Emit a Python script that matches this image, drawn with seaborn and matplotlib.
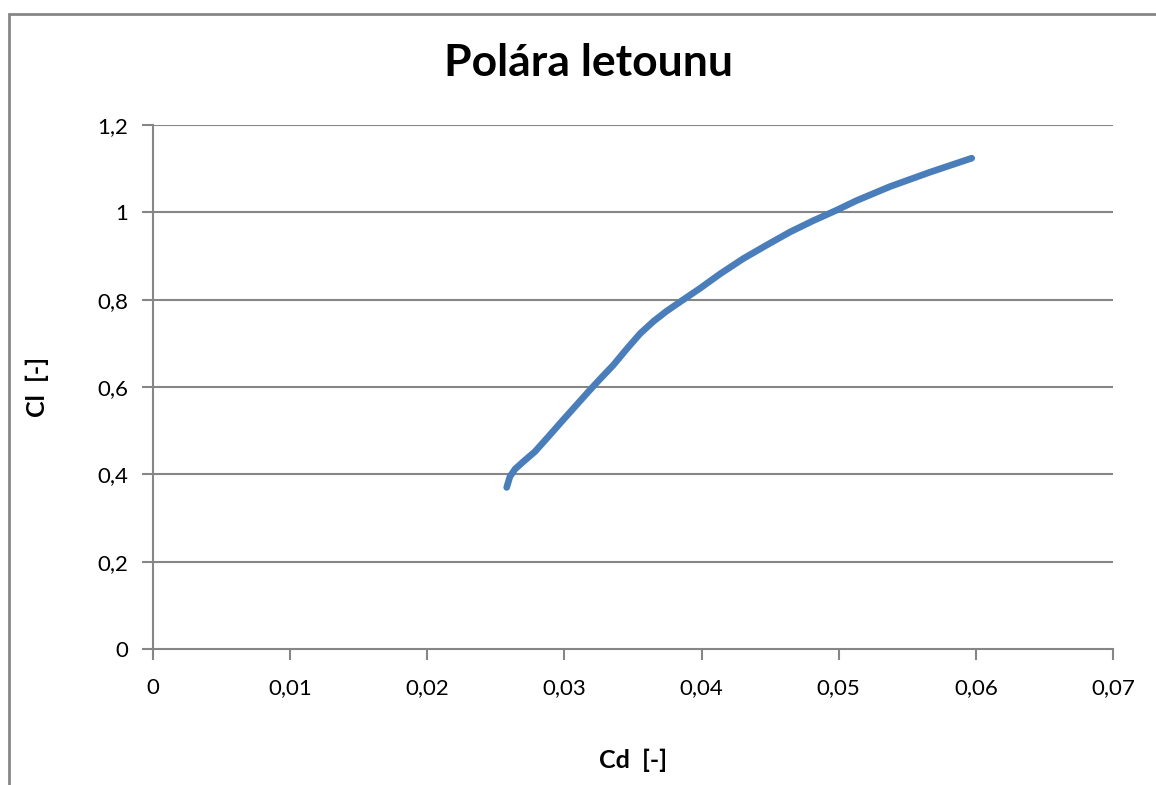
import matplotlib
matplotlib.use("Agg")
import matplotlib.pyplot as plt
import seaborn as sns
import pandas as pd
from matplotlib.patches import Rectangle

cd = [0.02579, 0.02603, 0.02640, 0.02700, 0.02785, 0.02882, 0.02980, 0.03077,
      0.03174, 0.03259, 0.03356, 0.03454, 0.03551, 0.03648, 0.03746, 0.03867,
      0.03989, 0.04135, 0.04304, 0.04475, 0.04645, 0.04815, 0.04985, 0.05131,
      0.05374, 0.05666, 0.05970]
cl = [0.370, 0.395, 0.412, 0.429, 0.452, 0.486, 0.521, 0.555,
      0.589, 0.618, 0.650, 0.687, 0.722, 0.750, 0.774, 0.800,
      0.826, 0.859, 0.894, 0.925, 0.955, 0.981, 1.005, 1.027,
      1.059, 1.092, 1.124]

x_ticks = [0, 0.01, 0.02, 0.03, 0.04, 0.05, 0.06, 0.07]
x_labels = ["0", "0,01", "0,02", "0,03", "0,04", "0,05", "0,06", "0,07"]
y_ticks = [0, 0.2, 0.4, 0.6, 0.8, 1.0, 1.2]
y_labels = ["0", "0,2", "0,4", "0,6", "0,8", "1", "1,2"]

df = pd.DataFrame({"Cd": cd, "Cl": cl})

sns.set_style("white")
plt.rcParams["font.family"] = ["Lato", "DejaVu Sans"]
plt.rcParams["text.color"] = "black"
plt.rcParams["axes.labelcolor"] = "black"

fig = plt.figure(figsize=(11.56, 7.85), dpi=100)
ax = fig.add_axes([153/1156, 1-649/785, 960/1156, 524/785])

grid_c = "#868686"
sns.lineplot(data=df, x="Cd", y="Cl", sort=False, ax=ax, color="#4A7EBB",
             linewidth=4.8, solid_capstyle="round", solid_joinstyle="round")

ax.set_xlim(0, 0.07)
ax.set_ylim(0, 1.2)
ax.set_xticks(x_ticks)
ax.set_xticklabels(x_labels)
ax.set_yticks(y_ticks)
ax.set_yticklabels(y_labels)
for y in y_ticks[1:]:
    ax.axhline(y, color=grid_c, linewidth=1.5, zorder=0)

ax.tick_params(axis="both", labelsize=16, colors=grid_c, labelcolor="black",
               length=8, width=1.5, direction="out")
ax.tick_params(axis="x", pad=13)
ax.tick_params(axis="y", pad=10)
ax.tick_params(left=True, bottom=True)

for s in ["top", "right"]:
    ax.spines[s].set_visible(False)
for s in ["left", "bottom"]:
    ax.spines[s].set_color(grid_c)
    ax.spines[s].set_linewidth(1.5)

ax.set_xlabel("Cd  [-]", fontsize=18, fontweight="bold")
ax.set_ylabel("Cl  [-]", fontsize=18, fontweight="bold")
ax.xaxis.set_label_coords(0.5, -0.19)
ax.yaxis.set_label_coords(-0.108, 0.5)

fig.text(0.509, 1-63/785, "Polára letounu", fontsize=32, fontweight="bold",
         ha="center", va="center")

fig.patches.append(Rectangle((8.5/1156, -0.1), 1.2, 1.1 - 13.5/785,
                             transform=fig.transFigure, fill=False,
                             edgecolor=grid_c, linewidth=2))

fig.savefig("out.png", dpi=100)
